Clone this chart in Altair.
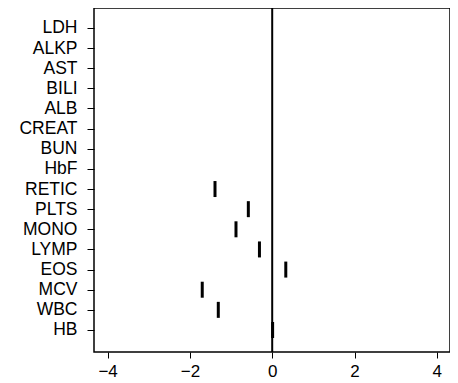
import altair as alt
import pandas as pd

categories = ["LDH", "ALKP", "AST", "BILI", "ALB", "CREAT", "BUN", "HbF",
              "RETIC", "PLTS", "MONO", "LYMP", "EOS", "MCV", "WBC", "HB"]
values = [None, None, None, None, None, None, None, None,
          -1.39, -0.58, -0.88, -0.31, 0.33, -1.70, -1.31, 0.01]
x_ticks = [-4, -2, 0, 2, 4]

n = len(categories)
pos = [n - i for i in range(n)]  # LDH at top (16), HB at bottom (1)
df = pd.DataFrame({"cat": categories, "val": values, "pos": pos})
df_pts = df.dropna(subset=["val"])

label_map = "{" + ",".join(f"'{p}':'{c}'" for p, c in zip(pos, categories)) + "}"

xscale = alt.Scale(domain=[-4.33, 4.32], nice=False, zero=False)
yscale = alt.Scale(domain=[-0.093, 16.99], nice=False, zero=False)

font = "Liberation Sans"

xaxis = alt.Axis(values=x_ticks, title=None, grid=False, tickSize=6, tickColor="black",
                 domain=False, labelFont=font, labelFontSize=17, labelColor="black",
                 labelPadding=5, tickWidth=1)
yaxis = alt.Axis(values=pos, title=None, grid=False, tickSize=7, tickColor="black",
                 domain=False, labelFont=font, labelFontSize=17.5, labelColor="black",
                 labelPadding=10, labelExpr=f"{label_map}[datum.value]", tickWidth=1)

base = alt.Chart(df_pts)

ticks = base.mark_tick(orient="vertical", size=16, thickness=3, color="black", opacity=1).encode(
    x=alt.X("val:Q", scale=xscale, axis=xaxis),
    y=alt.Y("pos:Q", scale=yscale, axis=yaxis),
)

zero = alt.Chart(pd.DataFrame({"z": [0]})).mark_rule(color="black", strokeWidth=2).encode(
    x=alt.X("z:Q", scale=xscale)
)

chart = alt.layer(ticks, zero).properties(
    width=356, height=344,
    autosize=alt.AutoSizeParams(type="none"),
    padding={"left": 86, "top": 0, "right": 0, "bottom": 30},
    background="white",
).configure_view(stroke="black", strokeWidth=1.5, strokeOpacity=1)

chart.save("out.html", embed_options={"renderer": "svg", "actions": False})
